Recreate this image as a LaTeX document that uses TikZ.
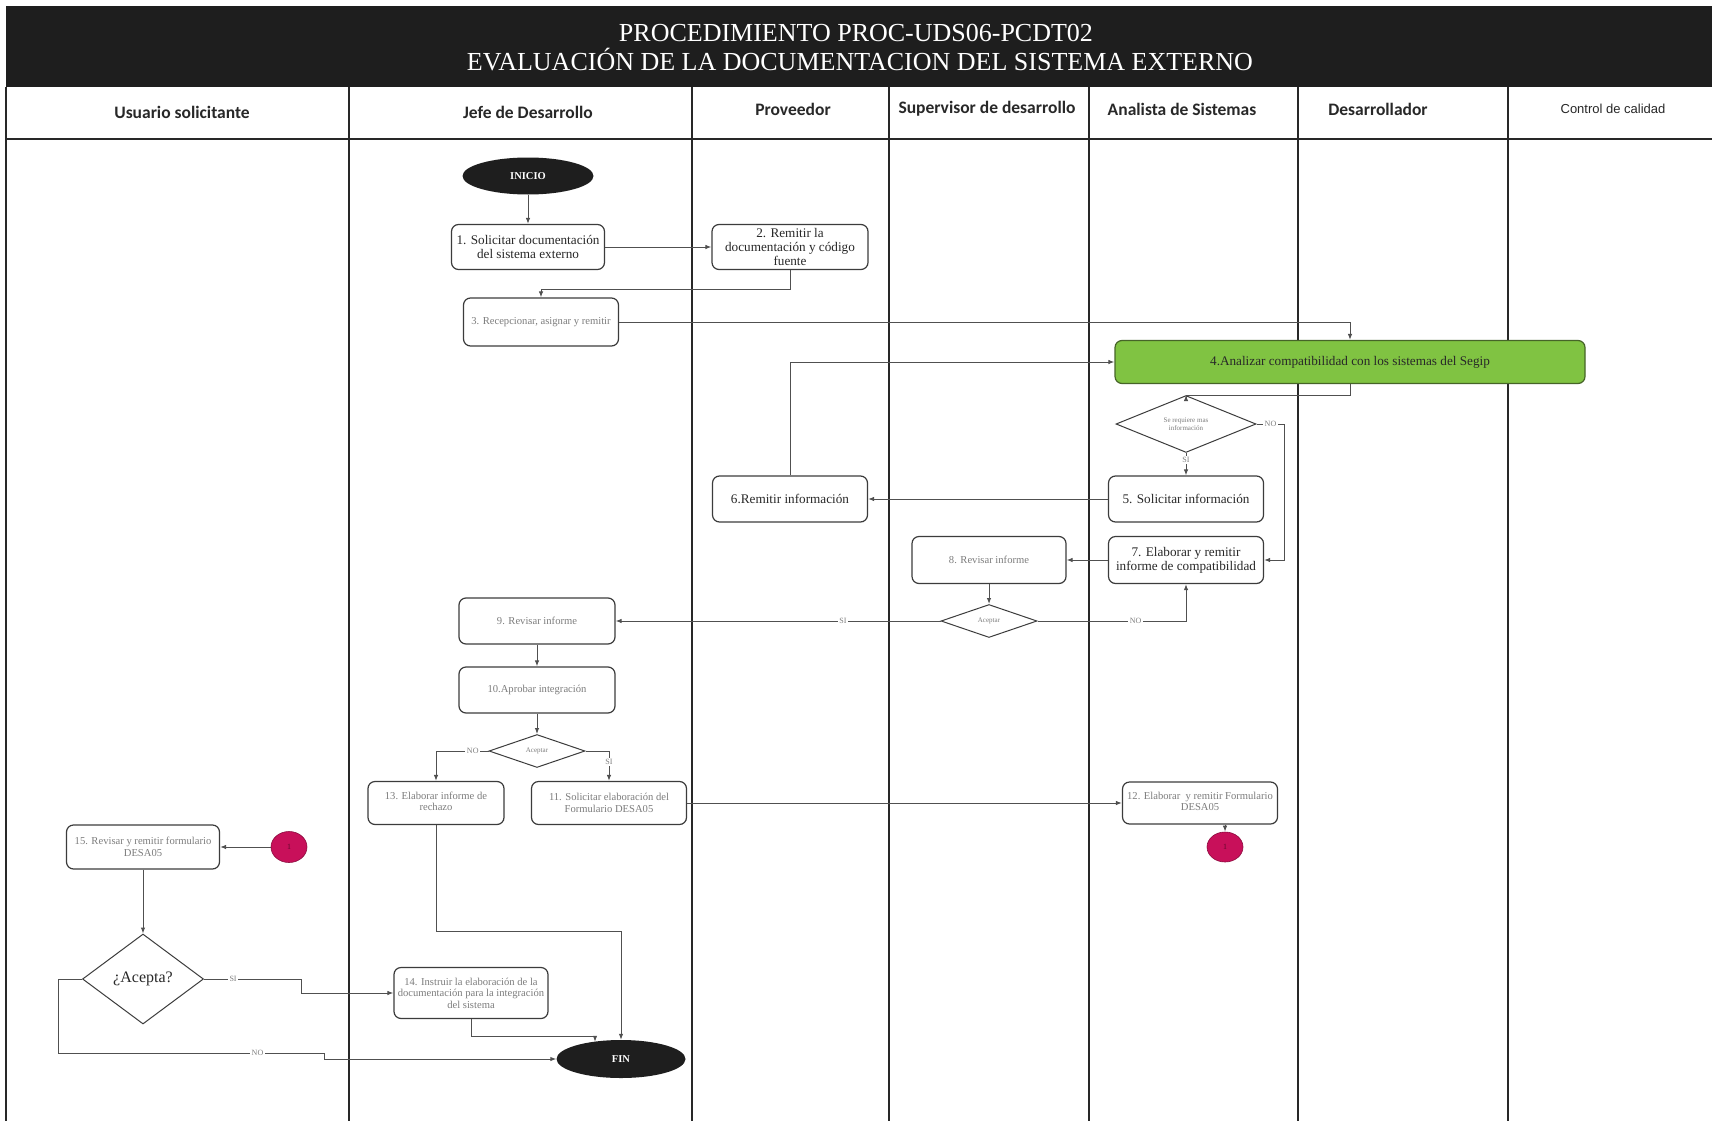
\documentclass[tikz,border=0pt]{standalone}
\usepackage{fontspec}
\setmainfont{Liberation Serif}
\newfontfamily\lanefont{Carlito}
\newfontfamily\qcfont{Liberation Sans}
\usetikzlibrary{shapes.geometric,arrows.meta,calc}

\definecolor{band}{RGB}{30,30,30}
\definecolor{lanerule}{RGB}{40,40,40}
\definecolor{boxline}{RGB}{60,60,60}
\definecolor{wirecol}{RGB}{80,80,80}
\definecolor{txtdark}{RGB}{40,40,40}
\definecolor{txtgrey}{RGB}{125,125,125}
\definecolor{okgreen}{RGB}{128,195,66}
\definecolor{okgreenline}{RGB}{70,100,40}
\definecolor{linkpink}{RGB}{200,16,90}

\tikzset{
  stepbox/.style={rectangle, draw=boxline, line width=1.2pt, rounded corners=7pt, fill=white,
    align=center, text=txtdark, font=\fontsize{13.2}{14}\selectfont, inner sep=1pt},
  stepgrey/.style={stepbox, text=txtgrey, font=\fontsize{10.6}{11.6}\selectfont},
  terminal/.style={ellipse, fill=band, text=white, font=\fontsize{10.5}{11}\selectfont\bfseries, inner sep=0pt},
  choice/.style={diamond, draw=boxline, line width=1pt, fill=white, inner sep=0pt, align=center,
    text=txtgrey, font=\fontsize{7}{7.5}\selectfont},
  link/.style={ellipse, fill=linkpink, draw=linkpink!70!black, line width=0.6pt, inner sep=0pt,
    text=linkpink!50!black, font=\fontsize{8}{8}\selectfont},
  wire/.style={draw=wirecol, line width=1pt, -{Latex[length=6pt,width=4.5pt]}},
  tag/.style={fill=white, inner sep=1.5pt, text=txtgrey, font=\fontsize{8}{8}\selectfont},
  lanehead/.style={font=\lanefont\bfseries\fontsize{17.5}{17.5}\selectfont, text=txtdark},
}

\begin{document}
\begin{tikzpicture}[x=1pt,y=-1pt]
\useasboundingbox (0,0) rectangle (1712,1121);
\fill[white] (0,0) rectangle (1712,1121);

% title band
\fill[band] (6,6) rectangle (1712,87);
\node[text=white, font=\fontsize{26}{26}\selectfont] (title1) at (856,33) {PROCEDIMIENTO PROC-UDS06-PCDT02};
\node[text=white, font=\fontsize{26}{26}\selectfont] (title2) at (860,60) {EVALUACIÓN DE LA DOCUMENTACION DEL SISTEMA EXTERNO};

% swimlanes
\foreach \x in {6,349,692,889,1089,1298,1508}
  \draw[lanerule, line width=1.6pt] (\x,87) -- (\x,1121);
\draw[lanerule, line width=2.5pt] (6,139) -- (1712,139);

\node[lanehead] (h1) at (182,112) {Usuario solicitante};
\node[lanehead] (h2) at (528,112) {Jefe de Desarrollo};
\node[lanehead] (h3) at (793,109) {Proveedor};
\node[lanehead] (h4) at (987,109) {Supervisor de desarrollo};
\node[lanehead] (h5) at (1182,109) {Analista de Sistemas};
\node[lanehead] (h6) at (1378,109) {Desarrollador};
\node[font=\qcfont\fontsize{13}{13}\selectfont, text=txtdark] (h7) at (1613,109) {Control de calidad};

% steps
\node[terminal, minimum width=131pt, minimum height=37pt] (inicio) at (528,176) {INICIO};
\node[stepbox, minimum width=153pt, minimum height=45pt] (s1) at (528,247) {1. Solicitar documentación\\del sistema externo};
\node[stepbox, minimum width=156pt, minimum height=45pt] (s2) at (790,247) {2. Remitir la\\documentación y código\\fuente};
\node[stepgrey, minimum width=155pt, minimum height=48pt] (s3) at (541,322) {3. Recepcionar, asignar y remitir};
\node[stepbox, fill=okgreen, draw=okgreenline, minimum width=470pt, minimum height=43pt] (s4) at (1350,362) {4.Analizar compatibilidad con los sistemas del Segip};
\node[choice, minimum width=140pt, minimum height=40pt] (d1) at (1186,424) {Se requiere mas\\información};
\node[stepbox, minimum width=155pt, minimum height=46pt] (s5) at (1186,499) {5. Solicitar información};
\node[stepbox, minimum width=155pt, minimum height=46pt] (s6) at (790,499) {6.Remitir información};
\node[stepbox, minimum width=155pt, minimum height=47pt] (s7) at (1186,560) {7. Elaborar y remitir\\informe de compatibilidad};
\node[stepgrey, minimum width=154pt, minimum height=47pt] (s8) at (989,560) {8. Revisar informe};
\node[choice, minimum width=96pt, minimum height=33pt] (d2) at (989,621) {Aceptar};
\node[stepgrey, minimum width=156pt, minimum height=46pt] (s9) at (537,621) {9. Revisar informe};
\node[stepgrey, minimum width=156pt, minimum height=46pt] (s10) at (537,690) {10.Aprobar integración};
\node[choice, minimum width=96pt, minimum height=33pt] (d3) at (537,751) {Aceptar};
\node[stepgrey, minimum width=136pt, minimum height=43pt] (s13) at (436,803) {13. Elaborar informe de\\rechazo\strut};
\node[stepgrey, minimum width=155pt, minimum height=43pt] (s11) at (609,803) {11. Solicitar elaboración del\\Formulario DESA05};
\node[stepgrey, minimum width=155pt, minimum height=42pt] (s12) at (1200,803) {12. Elaborar\ \ y remitir Formulario\\DESA05\strut};
\node[link, minimum width=36pt, minimum height=30pt] (c1) at (1225,847) {1};
\node[link, minimum width=36pt, minimum height=31pt] (c2) at (289,847) {1};
\node[stepgrey, minimum width=153pt, minimum height=44pt] (s15) at (143,847) {15. Revisar y remitir formulario\\DESA05};
\node[choice, minimum width=121pt, minimum height=90pt, text=txtdark, font=\fontsize{16}{16}\selectfont] (d4) at (143,979) {¿Acepta?};
\node[stepgrey, minimum width=154pt, minimum height=51pt] (s14) at (471,993) {14. Instruir la elaboración de la\\documentación para la integración\\del sistema};
\node[terminal, minimum width=129pt, minimum height=38pt] (fin) at (621,1059) {FIN};

% connectors
\draw[wire] (inicio) -- (s1);
\draw[wire] (s1.east) -- (s2.west);
\draw[wire] (s2.south) -- ++(0,19) -| (s3.north);
\draw[wire] (s3.east) -| (s4.north);
\draw[wire] (s4.south) -- ++(0,11) -| (d1.north);
\draw[wire] (d1.south) -- node[tag, pos=0.3] {SI} (s5.north);
\draw[wire] (d1.east) -- node[tag] {NO} ++(28,0) |- (s7.east);
\draw[wire] (s5.west) -- (s6.east);
\draw[wire] (s6.north) |- (s4.west);
\draw[wire] (s7.west) -- (s8.east);
\draw[wire] (s8.south) -- (d2.north);
\draw[wire] (d2.west) -- node[tag, pos=0.3] {SI} (s9.east);
\draw[wire] (d2.east) -| node[tag, pos=0.33] {NO} (s7.south);
\draw[wire] (s9) -- (s10);
\draw[wire] (s10) -- (d3);
\draw[wire] (d3.west) -| node[tag, pos=0.15] {NO} (s13.north);
\draw[wire] (d3.east) -| node[tag, pos=0.68] {SI} (s11.north);
\draw[wire] (s11.east) -- (s12.west);
\draw[wire] (s12.south -| c1.north) -- (c1.north);
\draw[wire] (c2.west) -- (s15.east);
\draw[wire] (s15.south) -- (d4.north);
\draw[wire] (d4.east) -- node[tag, pos=0.3] {SI} ++(97,0) |- (s14.west);
\draw[wire] (d4.west) -- ++(-24,0) -- ++(0,74) -- node[tag, pos=0.75] {NO} ++(266,0) |- (fin.west);
\draw[wire] (s14.south) -- ++(0,17) -| ([xshift=-26pt,yshift=-2pt]fin.north);
\draw[wire] (s13.south) -- ++(0,106) -| (fin.north);
\end{tikzpicture}
\end{document}
